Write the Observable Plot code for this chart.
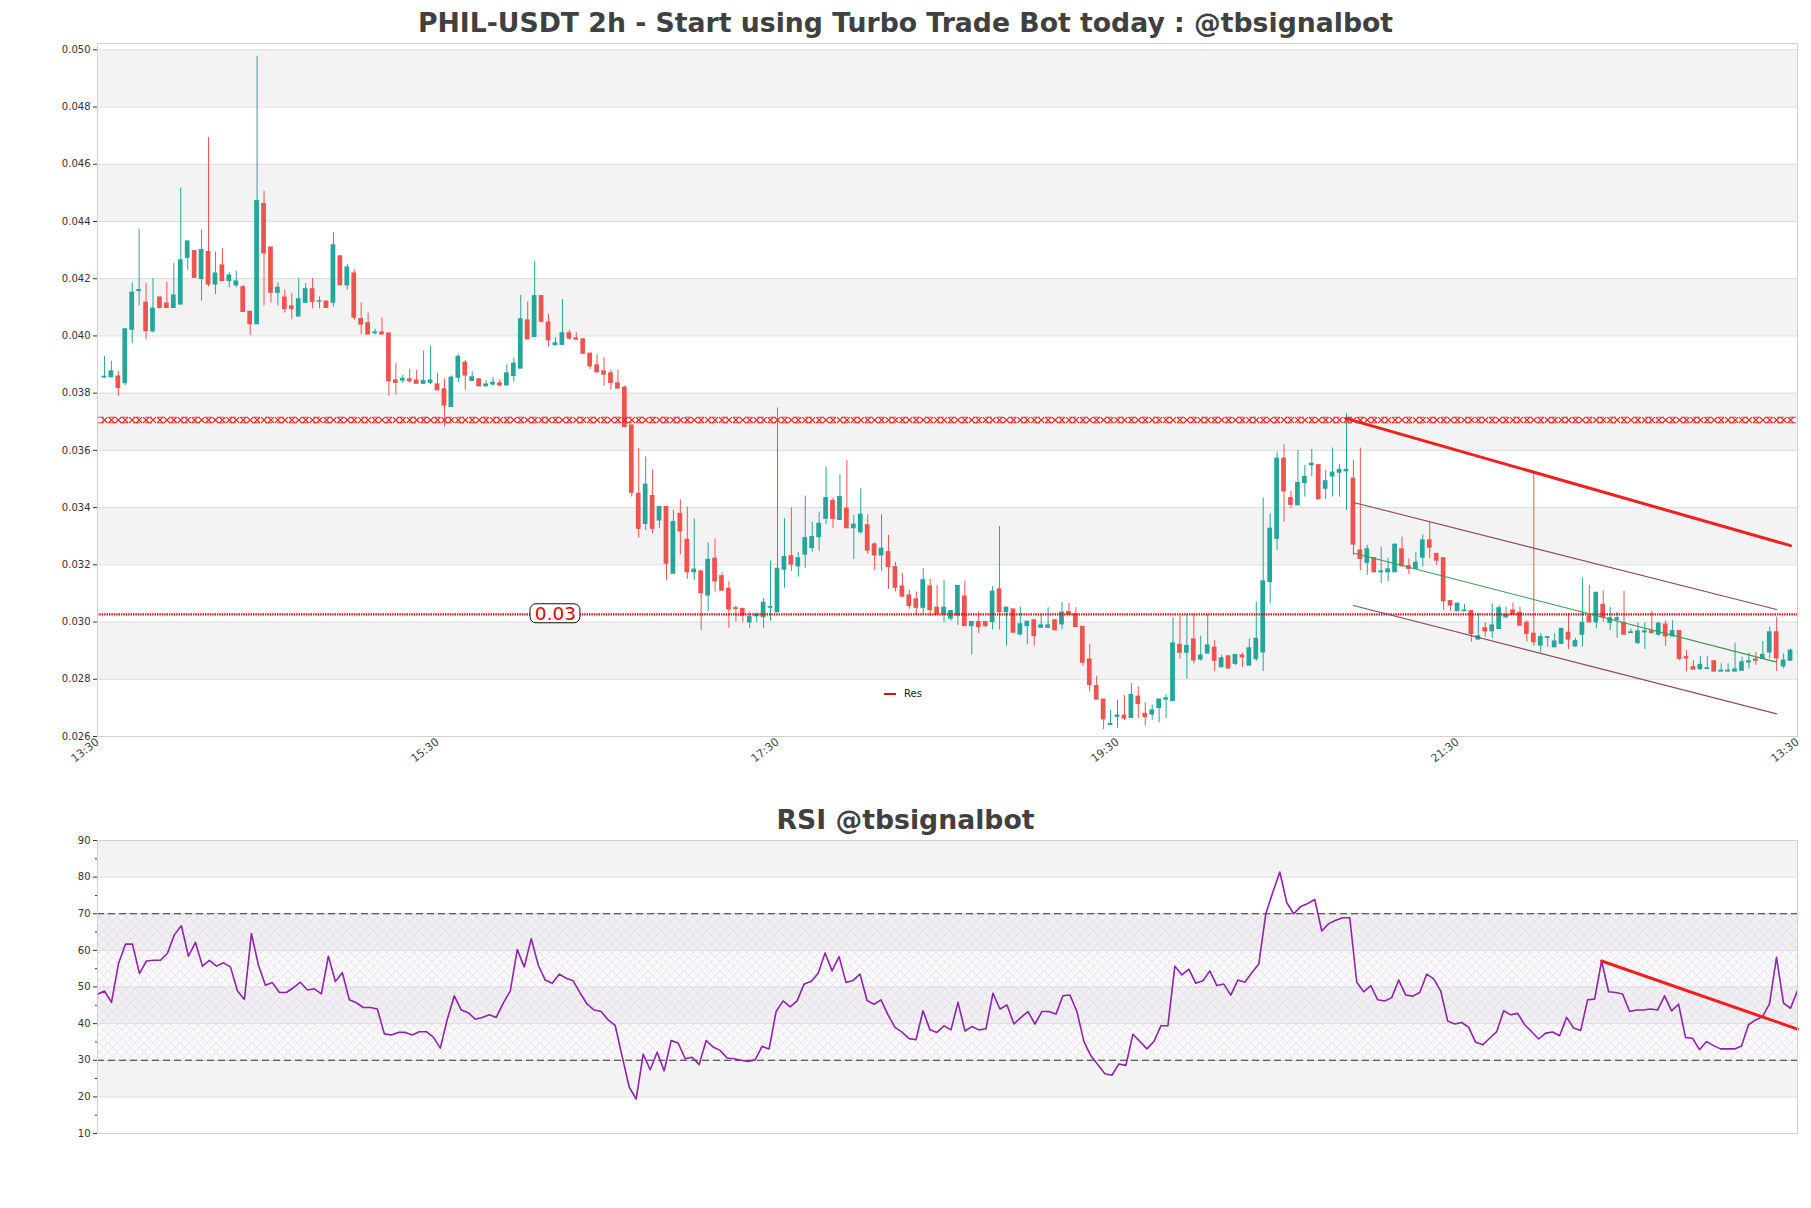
<!DOCTYPE html>
<html><head><meta charset="utf-8">
<script src="https://cdn.jsdelivr.net/npm/d3@7"></script>
<script src="https://cdn.jsdelivr.net/npm/@observablehq/plot@0.6"></script>
<style>
body{margin:0;background:#fff;}
#wrap{position:relative;width:1811px;height:1208px;font-family:"DejaVu Sans",sans-serif;overflow:hidden;}
#wrap svg{position:absolute;left:0;}
.title{position:absolute;left:0;width:1811px;text-align:center;font-weight:bold;font-size:26.7px;line-height:30px;color:#404040;font-family:"DejaVu Sans",sans-serif;}
.legend{position:absolute;font-size:10px;color:#222;font-family:"DejaVu Sans",sans-serif;line-height:12px;}
.legend span.sw{display:inline-block;width:12px;height:2px;background:#d01010;vertical-align:middle;margin-right:8px;}
</style></head>
<body><div id="wrap"></div>
<script>
// ---------- text ----------
const mainTitle = "PHIL-USDT 2h - Start using Turbo Trade Bot today : @tbsignalbot";
const rsiTitle = "RSI @tbsignalbot";
const legendLabel = "Res";
const levelLabel = "0.03";

// ---------- axes ----------
const xDomain = [0, 245];
const xTickPositions = [0, 49, 98, 147, 196, 245];
const xTickLabels = ["13:30", "15:30", "17:30", "19:30", "21:30", "13:30"];
const yDomain = [0.026, 0.05022];
const yTickValues = [0.026, 0.028, 0.030, 0.032, 0.034, 0.036, 0.038, 0.040, 0.042, 0.044, 0.046, 0.048, 0.050];
const mainBands = [[0.028, 0.030], [0.032, 0.034], [0.036, 0.038], [0.040, 0.042], [0.044, 0.046], [0.048, 0.050]];

// ---------- candles (index starts at 1) ----------
const firstIndex = 1;
const opens = [.03855,.03856,.03858,.03835,.04022,.04157,.04116,.04016,.04134,.04113,
.04098,.04110,.04273,.04296,.04199,.04293,.04180,.04246,.04192,.04177,
.04170,.04084,.04041,.04461,.04309,.04151,.04134,.04103,.04068,.04116,
.04163,.04120,.04120,.04116,.04278,.04177,.04218,.04059,.04044,.04010,
.04012,.04008,.03844,.03844,.03848,.03844,.03833,.03836,.03830,.03813,
.03752,.03854,.03906,.03843,.03848,.03824,.03830,.03834,.03827,.03860,
.03886,.04054,.03996,.04139,.04046,.03968,.03969,.04009,.03991,.03988,
.03938,.03897,.03876,.03869,.03834,.03819,.03687,.03448,.03343,.03440,
.03355,.03402,.03169,.03378,.03287,.03174,.03177,.03093,.03221,.03160,
.03116,.03048,.03046,.02999,.03020,.03017,.03050,.03034,.03183,.03230,
.03195,.03236,.03259,.03297,.03361,.03423,.03357,.03396,.03328,.03314,
.03338,.03271,.03233,.03244,.03192,.03124,.03093,.03079,.03050,.03124,
.03050,.03027,.03012,.03023,.03089,.02986,.03000,.03000,.03000,.03114,
.03035,.03044,.02957,.02986,.03006,.02980,.02980,.03006,.02992,.03035,
.03027,.02983,.02869,.02776,.02729,.02640,.02669,.02673,.02665,.02739,
.02679,.02677,.02700,.02729,.02724,.02920,.02893,.02939,.02869,.02890,
.02910,.02842,.02880,.02854,.02883,.02848,.02871,.02894,.03140,.03291,
.03571,.03433,.03408,.03486,.03548,.03548,.03466,.03509,.03522,.03527,
.03501,.03250,.03207,.03223,.03174,.03174,.03174,.03254,.03195,.03186,
.03225,.03285,.03238,.03223,.03073,.03038,.03038,.03038,.02939,.02978,
.02968,.02976,.03017,.03040,.03032,.02997,.02959,.02918,.02945,.02912,
.02924,.02962,.02915,.02956,.03019,.02999,.03060,.02997,.03008,.02997,
.02962,.02927,.02964,.02967,.02956,.02991,.02950,.02968,.02877,.02842,
.02836,.02836,.02863,.02827,.02827,.02827,.02830,.02859,.02869,.02871,
.02894,.02964,.02845,.02865];
const highs = [.03928,.03911,.03876,.04023,.04185,.04373,.04183,.04200,.04136,.04186,
.04253,.04517,.04330,.04296,.04370,.04693,.04293,.04305,.04221,.04226,
.04175,.04084,.04977,.04506,.04309,.04186,.04160,.04148,.04200,.04183,
.04201,.04136,.04120,.04361,.04278,.04250,.04232,.04115,.04080,.04024,
.04062,.04011,.03903,.03862,.03883,.03880,.03947,.03964,.03869,.03850,
.03860,.03935,.03915,.03875,.03848,.03844,.03854,.03848,.03900,.03922,
.04142,.04118,.04261,.04139,.04075,.03994,.04128,.04020,.04011,.03988,
.03938,.03935,.03924,.03880,.03880,.03825,.03687,.03606,.03577,.03530,
.03402,.03402,.03390,.03427,.03402,.03361,.03177,.03277,.03291,.03172,
.03142,.03056,.03046,.03034,.03032,.03083,.03213,.03748,.03361,.03399,
.03244,.03440,.03349,.03384,.03542,.03433,.03515,.03565,.03373,.03466,
.03375,.03277,.03375,.03303,.03209,.03170,.03111,.03105,.03187,.03149,
.03128,.03146,.03038,.03126,.03143,.03000,.03035,.03000,.03124,.03334,
.03050,.03044,.03052,.03001,.03006,.03027,.03050,.03006,.03068,.03065,
.03050,.02983,.02922,.02811,.02729,.02691,.02727,.02743,.02785,.02774,
.02718,.02710,.02729,.02747,.03015,.03021,.03027,.03027,.02951,.03027,
.02935,.02883,.02880,.02885,.02892,.02941,.03069,.03433,.03378,.03594,
.03620,.03457,.03600,.03548,.03603,.03548,.03530,.03608,.03550,.03728,
.03565,.03608,.03268,.03223,.03262,.03223,.03273,.03297,.03221,.03244,
.03305,.03347,.03238,.03223,.03073,.03064,.03061,.03038,.03029,.02997,
.03064,.03057,.03052,.03067,.03052,.03005,.03524,.02959,.02948,.02959,
.02978,.03030,.02943,.03153,.03128,.03102,.03108,.03052,.03034,.03108,
.02976,.02997,.02997,.03038,.03000,.03003,.03005,.02968,.02900,.02865,
.02880,.02880,.02863,.02854,.02854,.02926,.02877,.02892,.02894,.02932,
.02982,.03017,.02889,.02906];
const lows = [.03853,.03853,.03789,.03826,.03973,.04105,.03987,.04011,.04094,.04098,
.04098,.04107,.04229,.04203,.04122,.04171,.04145,.04192,.04168,.04168,
.04084,.04002,.04041,.04105,.04115,.04105,.04080,.04057,.04068,.04113,
.04095,.04095,.04098,.04101,.04177,.04160,.04054,.04005,.04005,.04003,
.04003,.03789,.03793,.03833,.03834,.03833,.03833,.03830,.03810,.03682,
.03752,.03836,.03810,.03842,.03824,.03824,.03824,.03822,.03827,.03838,
.03886,.03988,.03996,.04046,.03962,.03965,.03969,.03985,.03987,.03938,
.03883,.03873,.03824,.03810,.03816,.03678,.03437,.03293,.03320,.03308,
.03326,.03145,.03169,.03236,.03149,.03145,.02970,.03037,.03104,.03110,
.02978,.03000,.02999,.02978,.02999,.02978,.03003,.03034,.03118,.03177,
.03157,.03188,.03244,.03247,.03340,.03328,.03357,.03328,.03219,.03308,
.03236,.03180,.03177,.03114,.03105,.03085,.03044,.03023,.03023,.03019,
.03021,.02998,.03003,.02988,.02986,.02885,.02960,.02980,.02972,.02972,
.02916,.02960,.02951,.02920,.02916,.02980,.02980,.02968,.02972,.03021,
.02983,.02846,.02756,.02729,.02624,.02640,.02628,.02656,.02665,.02663,
.02636,.02657,.02648,.02663,.02724,.02870,.02800,.02854,.02863,.02890,
.02827,.02842,.02836,.02848,.02842,.02848,.02862,.02827,.03064,.03250,
.03349,.03396,.03408,.03437,.03507,.03429,.03429,.03437,.03437,.03390,
.03233,.03180,.03163,.03174,.03134,.03140,.03174,.03195,.03165,.03186,
.03192,.03221,.03198,.03040,.03038,.03038,.03038,.02930,.02939,.02947,
.02943,.02976,.03011,.03025,.02984,.02930,.02915,.02892,.02912,.02912,
.02921,.02904,.02912,.02912,.02999,.02976,.02999,.02970,.02943,.02956,
.02962,.02921,.02904,.02962,.02950,.02915,.02950,.02865,.02827,.02834,
.02830,.02836,.02827,.02827,.02827,.02827,.02830,.02836,.02848,.02871,
.02871,.02827,.02836,.02865];
const closes = [.03857,.03876,.03818,.04023,.04151,.04160,.04017,.04095,.04098,.04098,
.04141,.04264,.04330,.04203,.04300,.04180,.04218,.04192,.04211,.04190,
.04084,.04041,.04471,.04288,.04151,.04168,.04094,.04094,.04128,.04163,
.04119,.04121,.04098,.04317,.04177,.04239,.04064,.04040,.04005,.04012,
.04005,.03842,.03836,.03850,.03842,.03833,.03842,.03844,.03810,.03757,
.03854,.03927,.03862,.03855,.03824,.03830,.03836,.03827,.03869,.03903,
.04058,.03988,.04139,.04050,.03985,.03974,.04009,.03991,.03987,.03938,
.03894,.03873,.03865,.03836,.03816,.03682,.03452,.03326,.03480,.03326,
.03402,.03204,.03349,.03317,.03174,.03183,.03101,.03217,.03142,.03110,
.03044,.03046,.03023,.03017,.03025,.03067,.03052,.03186,.03227,.03201,
.03223,.03293,.03297,.03343,.03433,.03361,.03437,.03328,.03340,.03375,
.03250,.03233,.03256,.03192,.03120,.03089,.03056,.03050,.03146,.03042,
.03027,.03050,.03038,.03126,.02986,.03000,.02983,.02986,.03106,.03035,
.03050,.02963,.02992,.03001,.02951,.02988,.02988,.02972,.03033,.03027,
.02983,.02858,.02780,.02729,.02660,.02644,.02673,.02663,.02745,.02714,
.02668,.02691,.02729,.02733,.02925,.02893,.02916,.02866,.02883,.02918,
.02865,.02873,.02838,.02885,.02877,.02908,.02941,.03142,.03326,.03571,
.03457,.03410,.03486,.03507,.03553,.03429,.03492,.03522,.03532,.03532,
.03271,.03221,.03254,.03174,.03177,.03184,.03270,.03195,.03186,.03207,
.03285,.03260,.03215,.03073,.03058,.03064,.03040,.02959,.02950,.02968,
.02988,.03048,.03025,.03025,.02988,.02959,.02930,.02947,.02947,.02932,
.02976,.02939,.02933,.02997,.02999,.03102,.03017,.03013,.03013,.02956,
.02964,.02967,.02967,.02962,.02994,.02950,.02968,.02871,.02873,.02834,
.02850,.02838,.02827,.02830,.02830,.02834,.02859,.02863,.02865,.02885,
.02964,.02873,.02865,.02900];

// ---------- levels and trend lines ----------
const xLevel = 0.03706;          // red "x" resistance band
const resLevel = 0.03027;        // dotted "Res" line
const levelLabelAt = [{i: 66.0, p: 0.03029}];
const trendX = [180, 244], trendY = [0.03711, 0.03267];
const channelX = [181, 242];
const channelUpperY = [0.03418, 0.03044];
const channelMidY = [0.03241, 0.02860];
const channelLowerY = [0.03058, 0.02679];

// ---------- RSI ----------
const rsi = [48.0,48.9,45.8,56.4,61.7,61.7,53.7,57.1,57.3,57.3,59.2,64.3,66.7,58.4,62.2,55.7,57.3,55.7,56.6,55.5,
49.0,46.6,64.6,56.0,50.5,51.2,48.5,48.5,49.8,51.3,49.2,49.5,48.1,58.4,51.5,53.9,46.5,45.7,44.4,44.4,
44.0,37.2,36.9,37.6,37.6,36.9,37.8,37.8,36.3,33.3,41.2,47.6,43.7,43.0,41.2,41.7,42.4,41.7,45.6,48.9,
60.2,55.5,63.2,56.0,51.9,51.0,53.5,52.4,51.7,48.3,45.3,43.7,43.3,41.0,39.5,31.0,22.7,19.4,
31.7,27.4,32.2,27.1,35.4,34.7,30.4,30.8,28.8,35.4,33.6,32.7,30.6,30.4,30.0,29.7,30.1,33.8,33.1,43.3,
46.2,44.6,46.2,50.8,51.5,53.7,59.3,54.4,58.3,51.2,51.8,53.5,46.3,45.3,46.5,42.4,39.0,37.7,35.9,35.6,
43.5,38.3,37.6,39.4,38.3,45.8,38.0,39.2,38.3,38.6,48.3,44.0,45.1,39.9,41.7,43.3,39.9,43.3,43.3,42.6,
47.6,47.8,43.3,35.1,31.2,28.8,26.3,25.9,29.0,28.6,37.1,35.1,33.1,35.1,39.4,39.4,55.7,53.3,54.9,51.0,
51.7,54.4,50.4,
50.8,47.8,51.9,51.3,53.9,56.3,70.0,75.9,81.4,73.0,70.0,72.0,72.8,73.9,65.3,67.3,68.2,68.9,68.9,51.3,
48.7,50.4,46.5,46.2,47.1,51.9,47.8,47.5,48.5,53.5,52.2,48.9,40.7,39.9,40.3,39.0,34.9,34.2,36.0,37.8,
43.5,42.4,42.8,39.7,37.8,35.8,37.4,37.7,36.7,41.7,38.8,38.1,46.5,46.7,57.1,48.7,48.5,48.1,43.3,43.7,
43.7,44.0,43.7,47.6,43.5,45.3,36.2,36.0,32.9,35.1,34.0,33.1,33.1,33.1,33.9,39.7,41.0,41.9,45.4,58.1,
45.6,44.2,49.0];
const rsiDomain = [10, 90];
const rsiTicks = [10, 20, 30, 40, 50, 60, 70, 80, 90];
const rsiMinorTicks = [15, 25, 35, 45, 55, 65, 75, 85];
const rsiBands = [[20, 30], [40, 50], [60, 70], [80, 90]];
const rsiLevels = [30, 70];
const rsiTrendX = [215, 243], rsiTrendY = [57.1, 38.5];

// ---------- build ----------
const TEAL = "#26a69a", RED = "#ef5350", LINE_RED = "#f02020";
const candles = opens.map((o, k) => ({i: k + firstIndex, o, h: highs[k], l: lows[k], c: closes[k]}));
const col = d => d.c >= d.o ? TEAL : RED;
const pairs = (xs, ys) => xs.map((x, k) => ({x, y: ys[k]}));
const xLabelMap = new Map(xTickPositions.map((p, k) => [p, xTickLabels[k]]));
const baseStyle = {fontFamily: "DejaVu Sans, sans-serif", fontSize: "10px", color: "#333", background: "transparent"};

const wrap = document.getElementById("wrap");

const main = Plot.plot({
  width: 1811, height: 800,
  marginTop: 43, marginBottom: 64, marginLeft: 97, marginRight: 14,
  style: baseStyle,
  x: {domain: xDomain},
  y: {domain: yDomain},
  marks: [
    Plot.rect(mainBands, {y1: d => d[0], y2: d => d[1], fill: "#f3f3f3"}),
    Plot.ruleY(yTickValues, {stroke: "#dcdcdc", strokeWidth: 1}),
    Plot.ruleX(candles, {x: "i", y1: "l", y2: "h", stroke: col, strokeWidth: 1}),
    Plot.rect(candles, {x1: d => d.i - 0.34, x2: d => d.i + 0.34, y1: d => Math.min(d.o, d.c), y2: d => Math.max(d.o, d.c), fill: col, insetTop: -0.6, insetBottom: -0.6}),
    // x-marker resistance band
    Plot.ruleY([xLevel], {stroke: LINE_RED, strokeWidth: 0.8, dy: -2.8, strokeDasharray: "7,5"}),
    Plot.ruleY([xLevel], {stroke: LINE_RED, strokeWidth: 0.8, dy: 2.8, strokeDasharray: "7,5"}),
    Plot.dot(candles, {x: "i", y: () => xLevel, symbol: "times", r: 2.8, stroke: LINE_RED, strokeWidth: 1.1}),
    // dotted Res line
    Plot.ruleY([resLevel], {stroke: "#e00000", strokeWidth: 2.2, strokeDasharray: "1.4,1"}),
    // channel
    Plot.line(pairs(channelX, channelUpperY), {x: "x", y: "y", stroke: "#8a4a62", strokeWidth: 1.1}),
    Plot.line(pairs(channelX, channelLowerY), {x: "x", y: "y", stroke: "#8a4a62", strokeWidth: 1.1}),
    Plot.line(pairs(channelX, channelMidY), {x: "x", y: "y", stroke: "#3a9a50", strokeWidth: 1.1}),
    Plot.line(pairs(trendX, trendY), {x: "x", y: "y", stroke: LINE_RED, strokeWidth: 3}),
    // level label
    Plot.rect(levelLabelAt, {x1: "i", x2: "i", y1: "p", y2: "p", insetLeft: -25, insetRight: -25, insetTop: -9.5, insetBottom: -9.5, fill: "white", stroke: "#111", strokeWidth: 1, rx: 6}),
    Plot.text(levelLabelAt, {x: "i", y: "p", text: () => levelLabel, fill: "#e00000", fontSize: 18.5}),
    Plot.axisY({ticks: yTickValues, tickFormat: d3.format(".3f"), tickSize: 4, tickPadding: 3, label: null}),
    Plot.axisX({ticks: xTickPositions, tickFormat: d => xLabelMap.get(d), tickRotate: -38, tickSize: 0, tickPadding: 4, fontSize: 11, fill: "#444", label: null}),
    Plot.frame({stroke: "#d0d0d0"})
  ]
});
main.style.top = "0px";
wrap.appendChild(main);

const rsiPlot = Plot.plot({
  width: 1811, height: 408,
  marginTop: 40, marginBottom: 75, marginLeft: 97, marginRight: 14,
  style: baseStyle,
  x: {domain: [0, rsi.length - 1], axis: null},
  y: {domain: rsiDomain},
  marks: [
    Plot.rect(rsiBands, {y1: d => d[0], y2: d => d[1], fill: "#f3f3f3"}),
    Plot.ruleY(rsiTicks, {stroke: "#dcdcdc", strokeWidth: 1}),
    Plot.rect([rsiLevels], {y1: d => d[0], y2: d => d[1], fill: "url(#rsiHatch)"}),
    Plot.ruleY(rsiLevels, {stroke: "#333", strokeWidth: 1.2, strokeDasharray: "7,4"}),
    Plot.line(rsi, {x: (d, k) => k, y: d => d, stroke: "#8e24aa", strokeWidth: 1.6}),
    Plot.line(pairs(rsiTrendX, rsiTrendY), {x: "x", y: "y", stroke: LINE_RED, strokeWidth: 3}),
    Plot.axisY({ticks: rsiTicks, tickSize: 4, tickPadding: 3, label: null}),
    Plot.axisY({ticks: rsiMinorTicks, tickSize: 2, tickFormat: () => "", label: null}),
    Plot.frame({stroke: "#d0d0d0"})
  ]
});
const defs = document.createElementNS("http://www.w3.org/2000/svg", "defs");
defs.innerHTML = '<pattern id="rsiHatch" width="9" height="9" patternUnits="userSpaceOnUse">' +
  '<rect width="9" height="9" fill="rgba(225,205,235,0.10)"/>' +
  '<path d="M0,0L9,9M9,0L0,9" stroke="#ddd2e2" stroke-width="0.55"/></pattern>';
rsiPlot.insertBefore(defs, rsiPlot.firstChild);
rsiPlot.style.top = "800px";
wrap.appendChild(rsiPlot);

// titles and legend (HTML)
const t1 = document.createElement("div");
t1.className = "title"; t1.style.top = "8px"; t1.textContent = mainTitle;
wrap.appendChild(t1);
const t2 = document.createElement("div");
t2.className = "title"; t2.style.top = "805px"; t2.textContent = rsiTitle;
wrap.appendChild(t2);
const lg = document.createElement("div");
lg.className = "legend"; lg.style.left = "884px"; lg.style.top = "688px";
lg.innerHTML = '<span class="sw"></span>' + legendLabel;
wrap.appendChild(lg);
</script>
</body></html>
